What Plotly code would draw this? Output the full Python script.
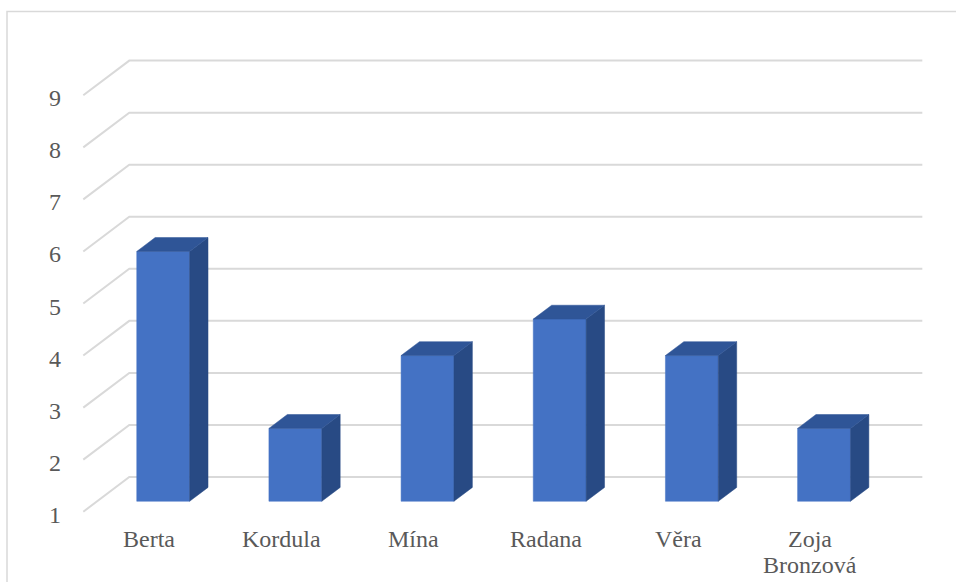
import plotly.graph_objects as go

# Chart data
categories = ["Berta", "Kordula", "Mína", "Radana", "Věra", "Zoja Bronzová"]
values = [5.8, 2.4, 3.8, 4.5, 3.8, 2.4]
tick_values = [1, 2, 3, 4, 5, 6, 7, 8, 9]

# Oblique 3D projection settings (in axis units)
DEPTH_X = 0.348      # horizontal shift of the back wall
DEPTH_Y = 0.667      # vertical shift of the back wall
GAP_WIDTH = 1.5      # column gap width (150%)
GAP_DEPTH = 1.5      # column gap depth (150%)
BASE = 1.0

FRONT_COLOR = "#4472C4"
TOP_COLOR = "#2F5597"
SIDE_COLOR = "#284A84"
GRID_COLOR = "#D9D9D9"
TEXT_COLOR = "#595959"
FONT = "Liberation Serif, Times New Roman, serif"
FONT_SIZE = 24
LINE_GAP = 26.5      # px between wrapped label lines

n = len(categories)
bar_w = 1.0 / (1.0 + GAP_WIDTH)
depth_frac = 1.0 / (1.0 + GAP_DEPTH)
d0 = (1.0 - depth_frac) / 2.0          # depth where the column starts
bdx, bdy = depth_frac * DEPTH_X, depth_frac * DEPTH_Y

fig = go.Figure()

# Back wall gridlines with their diagonal run along the left side wall
for v in tick_values:
    fig.add_trace(go.Scatter(
        x=[0, DEPTH_X, n + DEPTH_X],
        y=[v, v + DEPTH_Y, v + DEPTH_Y],
        mode="lines", line=dict(color=GRID_COLOR, width=2),
        hoverinfo="skip", showlegend=False,
    ))

# 3D columns: front, side and top faces
for i, v in enumerate(values):
    xl = i + 0.5 - bar_w / 2 + d0 * DEPTH_X
    xr = xl + bar_w
    yb = BASE + d0 * DEPTH_Y
    yt = v + d0 * DEPTH_Y
    faces = [
        ([xl, xr, xr, xl, xl], [yb, yb, yt, yt, yb], FRONT_COLOR),
        ([xr, xr + bdx, xr + bdx, xr, xr], [yb, yb + bdy, yt + bdy, yt, yb], SIDE_COLOR),
        ([xl, xr, xr + bdx, xl + bdx, xl], [yt, yt, yt + bdy, yt + bdy, yt], TOP_COLOR),
    ]
    for fx, fy, col in faces:
        fig.add_trace(go.Scatter(
            x=fx, y=fy, mode="lines", fill="toself", fillcolor=col,
            line=dict(color=col, width=0.5),
            hoverinfo="skip", showlegend=False,
        ))

annotations = []
# Value axis labels
for v in tick_values:
    annotations.append(dict(
        x=0, y=v, xref="x", yref="y", text=str(v), showarrow=False,
        xanchor="right", yanchor="middle", xshift=-20, yshift=-3,
        font=dict(family=FONT, size=FONT_SIZE, color=TEXT_COLOR),
    ))
# Category labels, long names wrapped word by word
for i, c in enumerate(categories):
    for k, word in enumerate(c.split(" ")):
        annotations.append(dict(
            x=i + 0.5, y=BASE, xref="x", yref="y", text=word, showarrow=False,
            xanchor="center", yanchor="top", yshift=-12 - k * LINE_GAP,
            font=dict(family=FONT, size=FONT_SIZE, color=TEXT_COLOR),
        ))

# Chart area border
shapes = [dict(
    type="rect", xref="paper", yref="paper",
    x0=7 / 956, x1=1.05, y0=-0.05, y1=1 - 11.5 / 582,
    line=dict(color=GRID_COLOR, width=1.5), fillcolor="rgba(0,0,0,0)",
)]

fig.update_layout(
    width=956, height=582,
    margin=dict(l=0, r=0, t=0, b=0),
    paper_bgcolor="white", plot_bgcolor="white",
    xaxis=dict(range=[-83.3 / 132.17, (956 - 83.3) / 132.17], visible=False, fixedrange=True),
    yaxis=dict(range=[BASE - 70.3 / 52.05, BASE + 511.7 / 52.05], visible=False, fixedrange=True),
    annotations=annotations, shapes=shapes,
    showlegend=False,
)

fig.write_html("out.html")
